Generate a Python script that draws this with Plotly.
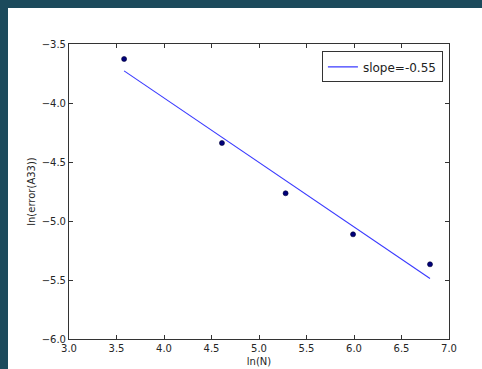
import plotly.graph_objects as go

ln_n = [3.58, 4.61, 5.28, 5.99, 6.80]
ln_err = [-3.627, -4.339, -4.765, -5.113, -5.367]
fit_x = [3.58, 6.80]
fit_y = [-3.728, -5.487]
fit_label = "slope=-0.55"
x_ticks = [3.0, 3.5, 4.0, 4.5, 5.0, 5.5, 6.0, 6.5, 7.0]
y_ticks = [-6.0, -5.5, -5.0, -4.5, -4.0, -3.5]

# the figure sits 8px in from the top-left of the page, on a dark teal page
W, H = 474, 361
L, R, T, B = 61, 33, 36, 30
TEAL = "#1c4a5c"

fig = go.Figure()
fig.add_trace(go.Scatter(x=ln_n, y=ln_err, mode="markers", showlegend=False,
                         marker=dict(color="#00007a", size=5, line=dict(color="#000033", width=0.6))))
fig.add_trace(go.Scatter(x=fit_x, y=fit_y, mode="lines", name=fit_label,
                         line=dict(color="#3a3aff", width=1.1)))

font = dict(family="DejaVu Sans", size=10, color="#262626")
axis_common = dict(showgrid=False, zeroline=False, showline=True, linecolor="#333333",
                   linewidth=1, mirror="allticks", ticks="inside", ticklen=4,
                   tickcolor="#333333", tickfont=font, tickformat=".1f", automargin=False)

fig.update_layout(
    width=W, height=H,
    margin=dict(l=L, r=R, t=T, b=B, autoexpand=False),
    paper_bgcolor="white",
    plot_bgcolor="white",
    xaxis=dict(range=[3.0, 7.0], tickvals=x_ticks, title=dict(text="ln(N)", font=font, standoff=4),
               **axis_common),
    yaxis=dict(range=[-6.0, -3.5], tickvals=y_ticks,
               title=dict(text="ln(error(A33))", font=font, standoff=4), **axis_common),
    legend=dict(x=0.984, y=0.975, xanchor="right", yanchor="top", bgcolor="white",
                bordercolor="#333333", borderwidth=1, font=dict(family="DejaVu Sans", size=12, color="#222"),
                itemwidth=30, tracegroupgap=0),
)
page_js = (
    "document.documentElement.style.overflow='hidden';"
    "document.body.style.overflow='hidden';"
    "document.body.style.margin='8px 0 0 8px';"
    "document.body.style.background='%s';" % TEAL
)
fig.write_html("out.html", config={"displayModeBar": False}, post_script=page_js)
